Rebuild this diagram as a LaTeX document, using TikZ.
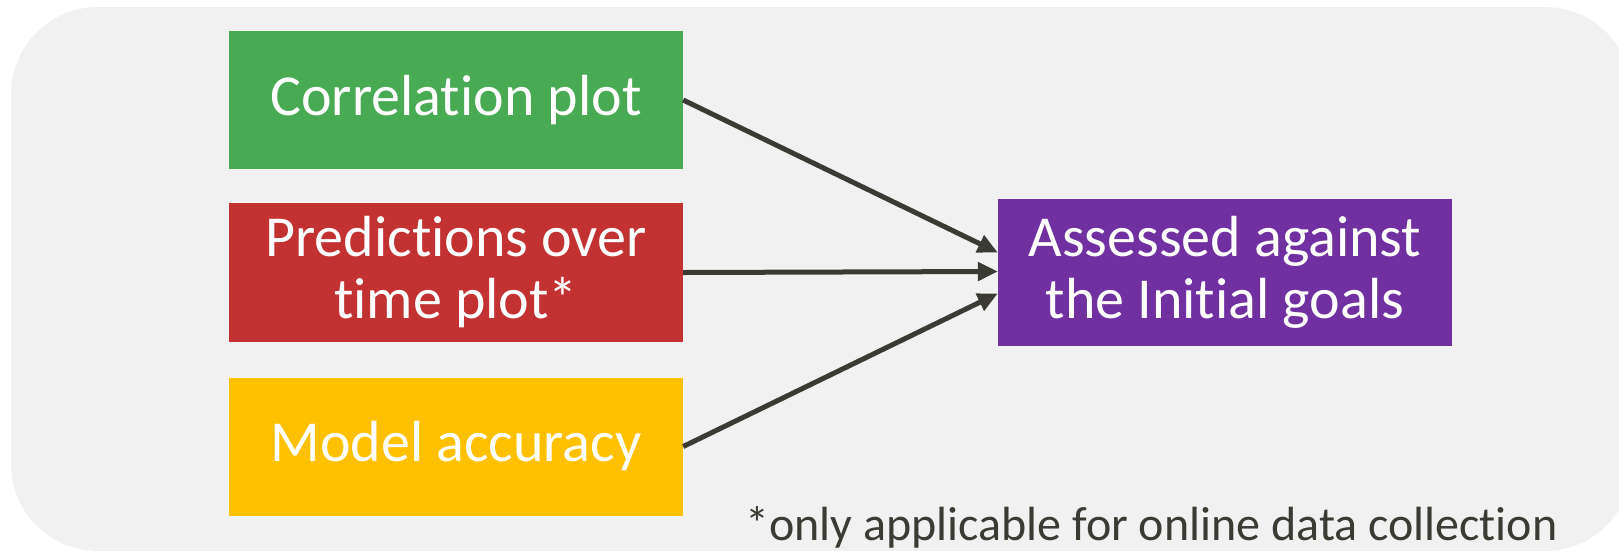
\documentclass[tikz,border=0pt]{standalone}
\usepackage{fontspec}
\setmainfont{Carlito}[Ligatures=NoCommon]
\usetikzlibrary{arrows.meta}

\definecolor{panelgray}{HTML}{F1F1F1}
\definecolor{boxgreen}{HTML}{48AA53}
\definecolor{boxred}{HTML}{C23233}
\definecolor{boxyellow}{HTML}{FFC000}
\definecolor{boxpurple}{HTML}{7030A0}
\definecolor{linegray}{HTML}{3B3B33}

\begin{document}
\begin{tikzpicture}[x=1pt,y=-1pt,
    plotbox/.style={rectangle,
            inner sep=0pt,
            text=white,
            align=center,
            minimum width=454pt,
            minimum height=138pt,
            font=\fontsize{58}{62}\selectfont},
    feed/.style={-{Triangle[length=20pt,width=18pt]},
            draw=linegray,
            line width=5pt}]

  \useasboundingbox (0,0) rectangle (1619,550);
  \clip (0,0) rectangle (1619,550);
  \fill[panelgray, rounded corners=87pt] (11,7) rectangle (1632,551);

      \node[plotbox,
            fill = boxgreen] (corr) at (456,100) {Correlation plot};

      \node[plotbox,
            fill = boxred,
            minimum height = 139pt] (pred) at (456,272.5) {Predictions over\\time plot*};

      \node[plotbox,
            fill = boxyellow] (acc) at (456,446.5) {Model accuracy};

      \node[plotbox,
            fill = boxpurple,
            minimum height = 147pt] (goals) at (1225,272.5) {Assessed against\\the Initial goals};

      \node[anchor=base west,
            inner sep=0pt,
            text=linegray,
            font=\fontsize{48}{50}\selectfont] (note) at (745,540) {*only applicable for online data collection};

      \draw[feed] (corr.east) -- ([yshift=20pt]goals.west);
      \draw[feed] (pred.east) -- ([yshift=1pt]goals.west);
      \draw[feed] (acc.east) -- ([yshift=-21pt]goals.west);

\end{tikzpicture}
\end{document}
